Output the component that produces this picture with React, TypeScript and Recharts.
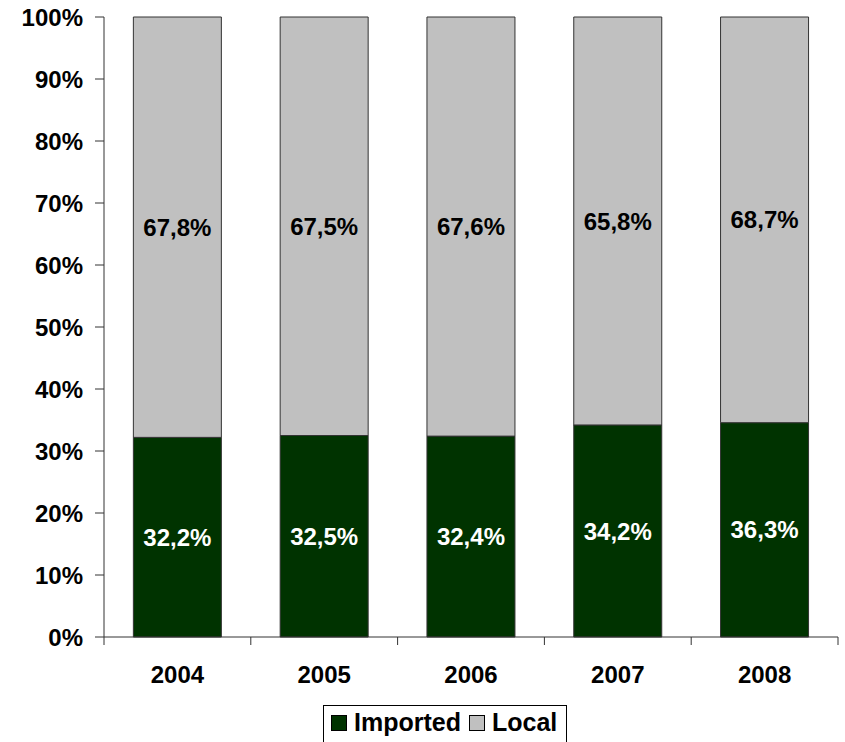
import { BarChart, Bar, XAxis, YAxis, Legend, LabelList } from 'recharts'

// shares by year (%)
const years = ['2004', '2005', '2006', '2007', '2008']
const imported = [32.2, 32.5, 32.4, 34.2, 36.3]
const local = [67.8, 67.5, 67.6, 65.8, 68.7]

const yTicks = [0, 0.1, 0.2, 0.3, 0.4, 0.5, 0.6, 0.7, 0.8, 0.9, 1]

const seriesNames = { imported: 'Imported', local: 'Local' }
const colors = { imported: '#003300', local: '#C0C0C0' }

const font = 'Arial, "Liberation Sans", sans-serif'

const data = years.map((year, i) => ({
    year,
    imported: imported[i],
    local: local[i],
}))

const fmtPct = (v: any) => Number(v).toFixed(1).replace('.', ',') + '%'

// year label + tick marks on the category boundaries (Excel style)
const YearTick = (props: any) => {
    const { x, y, payload, index, visibleTicksCount } = props
    const half = payload.offset || 0
    return (
        <g>
            <line x1={x - half} x2={x - half} y1={y - 18} y2={y - 10} stroke="#333" />
            {index === visibleTicksCount - 1 && (
                <line x1={x + half} x2={x + half} y1={y - 18} y2={y - 10} stroke="#333" />
            )}
            <text
                x={x}
                y={y + 28}
                textAnchor="middle"
                fill="#000"
                style={{ fontSize: 24, fontWeight: 'bold', fontFamily: font }}
            >
                {payload.value}
            </text>
        </g>
    )
}

const LegendBox = () => (
    <div style={{ height: 45, position: 'relative' }}>
        <div
            style={{
                position: 'absolute',
                left: 323,
                top: 8,
                width: 244,
                height: 40,
                border: '1px solid #000',
                boxSizing: 'border-box',
                display: 'flex',
                alignItems: 'flex-start',
                paddingTop: 2,
                paddingLeft: 7,
                fontFamily: font,
                fontWeight: 'bold',
                fontSize: 25,
                color: '#000',
                background: '#fff',
            }}
        >
            {(['imported', 'local'] as const).map((key) => (
                <span key={key} style={{ display: 'flex', alignItems: 'center', marginRight: 8 }}>
                    <span
                        style={{
                            display: 'inline-block',
                            width: 16,
                            height: 16,
                            background: colors[key],
                            border: '1px solid #000',
                            boxSizing: 'border-box',
                            marginRight: 7,
                        }}
                    />
                    {seriesNames[key]}
                </span>
            ))}
        </div>
    </div>
)

export default function App() {
    return (
        <div style={{ position: 'absolute', left: 0, top: 0, background: '#fff' }}>
            <BarChart
                width={845}
                height={742}
                data={data}
                stackOffset="expand"
                barCategoryGap="20%"
                margin={{ top: 17, right: 7, left: 0, bottom: 0 }}
            >
                <XAxis
                    dataKey="year"
                    height={60}
                    axisLine={{ stroke: '#333' }}
                    tickLine={false}
                    tickSize={8}
                    tickMargin={10}
                    tick={<YearTick />}
                />
                <YAxis
                    width={104}
                    domain={[0, 1]}
                    ticks={yTicks}
                    tickFormatter={(v) => `${Math.round(v * 100)}%`}
                    axisLine={{ stroke: '#333' }}
                    tickLine={{ stroke: '#333' }}
                    tickSize={9}
                    tickMargin={12}
                    tick={{ fill: '#000', fontSize: 24, fontWeight: 'bold', fontFamily: font }}
                />
                <Legend verticalAlign="bottom" content={<LegendBox />} />
                <Bar
                    dataKey="imported"
                    name={seriesNames.imported}
                    stackId="a"
                    fill={colors.imported}
                    stroke="#333"
                    strokeWidth={1}
                    isAnimationActive={false}
                >
                    <LabelList
                        dataKey="imported"
                        position="center"
                        formatter={fmtPct}
                        fill="#fff"
                        style={{ fontSize: 24, fontWeight: 'bold', fontFamily: font }}
                    />
                </Bar>
                <Bar
                    dataKey="local"
                    name={seriesNames.local}
                    stackId="a"
                    fill={colors.local}
                    stroke="#333"
                    strokeWidth={1}
                    isAnimationActive={false}
                >
                    <LabelList
                        dataKey="local"
                        position="center"
                        formatter={fmtPct}
                        fill="#000"
                        style={{ fontSize: 24, fontWeight: 'bold', fontFamily: font }}
                    />
                </Bar>
            </BarChart>
        </div>
    )
}
